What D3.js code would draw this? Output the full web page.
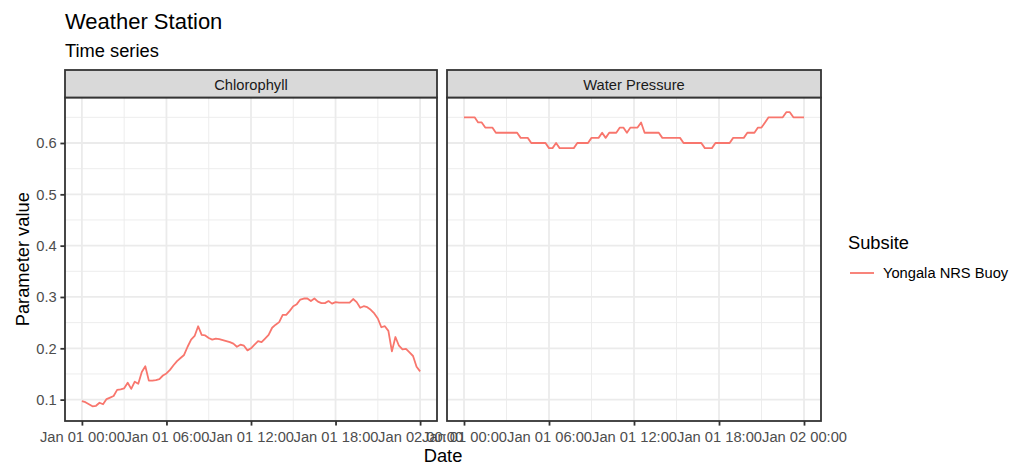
<!DOCTYPE html>
<html>
<head>
<meta charset="utf-8">
<script src="https://cdn.jsdelivr.net/npm/d3@7"></script>
<style>
  body { margin: 0; background: #fff; }
  text { font-family: "Liberation Sans", Arial, sans-serif; }
</style>
</head>
<body>
<div id="container"></div>
<script>
const WIDTH = 1017;
const HEIGHT = 464;
const PANEL_TOP = 97.5;
const PANEL_BOTTOM = 421;
const STRIP_TOP = 70;
const LINE_COLOR = "#F8766D";

// 15 minute readings, Jan 01 00:00 -> Jan 02 00:00
const facets = ["Chlorophyll", "Water Pressure"];
const subsites = ["Yongala NRS Buoy"];

const chlorophyll = [
  0.097, 0.095, 0.091, 0.087, 0.088, 0.094, 0.091, 0.101, 0.104, 0.107,
  0.119, 0.120, 0.122, 0.133, 0.121, 0.135, 0.131, 0.154, 0.165, 0.137,
  0.137, 0.138, 0.140, 0.147, 0.151, 0.158, 0.167, 0.175, 0.181, 0.187,
  0.203, 0.217, 0.224, 0.243, 0.226, 0.225, 0.220, 0.217, 0.219, 0.218,
  0.216, 0.214, 0.212, 0.209, 0.203, 0.207, 0.205, 0.196, 0.200, 0.207,
  0.214, 0.212, 0.219, 0.226, 0.240, 0.246, 0.251, 0.265, 0.265, 0.273,
  0.282, 0.286, 0.295, 0.297, 0.297, 0.292, 0.297, 0.291, 0.288, 0.288,
  0.292, 0.287, 0.290, 0.289, 0.289, 0.289, 0.289, 0.296, 0.290, 0.279,
  0.282, 0.280, 0.275, 0.268, 0.258, 0.241, 0.243, 0.234, 0.194, 0.222,
  0.205, 0.198, 0.199, 0.192, 0.185, 0.164, 0.155,
];

const waterPressure = [
  0.65, 0.65, 0.65, 0.65, 0.64, 0.64, 0.63, 0.63, 0.63, 0.62,
  0.62, 0.62, 0.62, 0.62, 0.62, 0.62, 0.61, 0.61, 0.61, 0.60,
  0.60, 0.60, 0.60, 0.60, 0.59, 0.59, 0.60, 0.59, 0.59, 0.59,
  0.59, 0.59, 0.60, 0.60, 0.60, 0.60, 0.61, 0.61, 0.61, 0.62,
  0.61, 0.62, 0.62, 0.62, 0.63, 0.63, 0.62, 0.63, 0.63, 0.63,
  0.64, 0.62, 0.62, 0.62, 0.62, 0.62, 0.61, 0.61, 0.61, 0.61,
  0.61, 0.61, 0.60, 0.60, 0.60, 0.60, 0.60, 0.60, 0.59, 0.59,
  0.59, 0.60, 0.60, 0.60, 0.60, 0.60, 0.61, 0.61, 0.61, 0.61,
  0.62, 0.62, 0.62, 0.63, 0.63, 0.64, 0.65, 0.65, 0.65, 0.65,
  0.65, 0.66, 0.66, 0.65, 0.65, 0.65, 0.65,
];

const xTickHours = [0, 6, 12, 18, 24];
const xMinorHours = [3, 9, 15, 21];
const yTicks = [0.1, 0.2, 0.3, 0.4, 0.5, 0.6];
const yMinorTicks = [0.15, 0.25, 0.35, 0.45, 0.55, 0.65];

const start = new Date(2020, 0, 1, 0, 0);
const atHour = (h) => d3.timeMinute.offset(start, h * 60);
const toSeries = (values) => values.map((v, i) => ({ date: d3.timeMinute.offset(start, i * 15), value: v }));

const series = [toSeries(chlorophyll), toSeries(waterPressure)];
const panelBox = [
  [65, 437],
  [447, 821],
];

const container = d3.select("div#container");
const svg = container
  .append("svg")
  .attr("width", WIDTH)
  .attr("height", HEIGHT);

// y scale shared by both facets, ggplot style 5% expansion
const allValues = chlorophyll.concat(waterPressure);
const [yMin, yMax] = d3.extent(allValues);
const yPad = (yMax - yMin) * 0.05;
const yScale = d3
  .scaleLinear()
  .domain([yMin - yPad, yMax + yPad])
  .range([PANEL_BOTTOM, PANEL_TOP]);

const timeFmt = d3.timeFormat("%b %d %H:%M");

facets.forEach((name, i) => {
  const [x0, x1] = panelBox[i];
  const xScale = d3
    .scaleTime()
    .domain([atHour(-1.2), atHour(25.2)])
    .range([x0, x1]);

  const g = svg.append("g");

  // grid
  g.selectAll("line.ymin")
    .data(yMinorTicks)
    .enter()
    .append("line")
    .attr("x1", x0)
    .attr("x2", x1)
    .attr("y1", (d) => yScale(d))
    .attr("y2", (d) => yScale(d))
    .attr("stroke", "#EBEBEB")
    .attr("stroke-width", 0.9);

  g.selectAll("line.xmin")
    .data(xMinorHours)
    .enter()
    .append("line")
    .attr("x1", (d) => xScale(atHour(d)))
    .attr("x2", (d) => xScale(atHour(d)))
    .attr("y1", PANEL_TOP)
    .attr("y2", PANEL_BOTTOM)
    .attr("stroke", "#EBEBEB")
    .attr("stroke-width", 0.9);

  g.selectAll("line.ymaj")
    .data(yTicks)
    .enter()
    .append("line")
    .attr("x1", x0)
    .attr("x2", x1)
    .attr("y1", (d) => yScale(d))
    .attr("y2", (d) => yScale(d))
    .attr("stroke", "#EBEBEB")
    .attr("stroke-width", 1.8);

  g.selectAll("line.xmaj")
    .data(xTickHours)
    .enter()
    .append("line")
    .attr("x1", (d) => xScale(atHour(d)))
    .attr("x2", (d) => xScale(atHour(d)))
    .attr("y1", PANEL_TOP)
    .attr("y2", PANEL_BOTTOM)
    .attr("stroke", "#EBEBEB")
    .attr("stroke-width", 1.8);

  const line = d3
    .line()
    .x((d) => xScale(d.date))
    .y((d) => yScale(d.value));

  g.append("path")
    .datum(series[i])
    .attr("fill", "none")
    .attr("stroke", LINE_COLOR)
    .attr("stroke-width", 1.8)
    .attr("stroke-linejoin", "round")
    .attr("d", line);

  // panel border
  g.append("rect")
    .attr("x", x0)
    .attr("y", PANEL_TOP)
    .attr("width", x1 - x0)
    .attr("height", PANEL_BOTTOM - PANEL_TOP)
    .attr("fill", "none")
    .attr("stroke", "#333333")
    .attr("stroke-width", 1.8);

  // strip
  g.append("rect")
    .attr("x", x0)
    .attr("y", STRIP_TOP)
    .attr("width", x1 - x0)
    .attr("height", PANEL_TOP - STRIP_TOP)
    .attr("fill", "#D9D9D9")
    .attr("stroke", "#333333")
    .attr("stroke-width", 1.8);

  g.append("text")
    .attr("x", (x0 + x1) / 2)
    .attr("y", 89.5)
    .attr("text-anchor", "middle")
    .style("font-size", "14.7px")
    .style("fill", "#1A1A1A")
    .text(name);

  // x axis
  const xAxis = d3
    .axisBottom(xScale)
    .tickValues(xTickHours.map(atHour))
    .tickFormat(timeFmt)
    .tickSize(4.6)
    .tickPadding(5.5);

  const xg = g
    .append("g")
    .attr("transform", `translate(0, ${PANEL_BOTTOM})`)
    .call(xAxis);
  xg.select(".domain").remove();
  xg.selectAll(".tick line").attr("stroke", "#333333").attr("stroke-width", 1.8);
  xg.selectAll(".tick text")
    .attr("fill", "#4D4D4D")
    .style("font-size", "14.7px")
    .style("font-family", "'Liberation Sans', Arial, sans-serif");

  if (i === 0) {
    const yAxis = d3.axisLeft(yScale).tickValues(yTicks).tickFormat(d3.format(".1f")).tickSize(4.6).tickPadding(3.7);
    const yg = g.append("g").attr("transform", `translate(${x0}, 0)`).call(yAxis);
    yg.select(".domain").remove();
    yg.selectAll(".tick line").attr("stroke", "#333333").attr("stroke-width", 1.8);
    yg.selectAll(".tick text")
      .attr("fill", "#4D4D4D")
      .style("font-size", "14.7px")
      .style("font-family", "'Liberation Sans', Arial, sans-serif");
  }
});

// titles
svg.append("text")
  .attr("x", 65)
  .attr("y", 29.3)
  .style("font-size", "22px")
  .style("fill", "#000")
  .text("Weather Station");

svg.append("text")
  .attr("x", 65)
  .attr("y", 56.7)
  .style("font-size", "18.3px")
  .style("fill", "#000")
  .text("Time series");

svg.append("text")
  .attr("x", (65 + 821) / 2)
  .attr("y", 462)
  .attr("text-anchor", "middle")
  .style("font-size", "18.3px")
  .text("Date");

svg.append("text")
  .attr("transform", `translate(29, ${(PANEL_TOP + PANEL_BOTTOM) / 2}) rotate(-90)`)
  .attr("text-anchor", "middle")
  .style("font-size", "18.3px")
  .text("Parameter value");

// legend
const legend = svg.append("g").attr("transform", "translate(848, 0)");
legend.append("text")
  .attr("x", 0)
  .attr("y", 249)
  .style("font-size", "18.3px")
  .text("Subsite");

legend.selectAll("g.key")
  .data(subsites)
  .enter()
  .append("g")
  .each(function (d, k) {
    const key = d3.select(this);
    key.append("line")
      .attr("x1", 2)
      .attr("x2", 26)
      .attr("y1", 273 + k * 25)
      .attr("y2", 273 + k * 25)
      .attr("stroke", LINE_COLOR)
      .attr("stroke-width", 1.8);
    key.append("text")
      .attr("x", 35)
      .attr("y", 278 + k * 25)
      .style("font-size", "14.7px")
      .style("fill", "#000")
      .text(d);
  });
</script>
</body>
</html>
